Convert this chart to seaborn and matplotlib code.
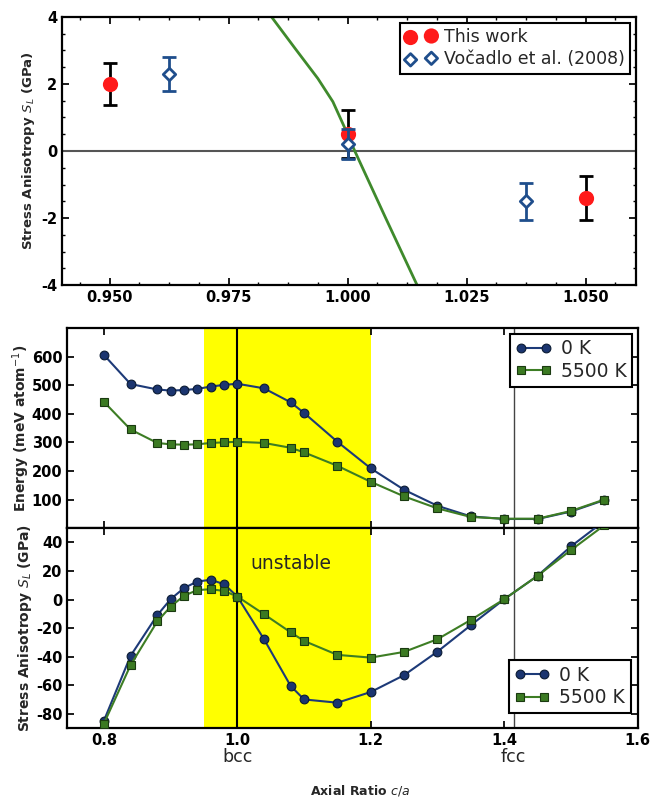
import numpy as np
import pandas as pd
import matplotlib
matplotlib.use("Agg")
import matplotlib.pyplot as plt
import seaborn as sns

# ---------------- data ----------------
# top panel
this_x = [0.950, 1.000, 1.050]
this_y = [2.0, 0.5, -1.4]
this_err = [0.62, 0.72, 0.65]
voc_x = [0.9625, 1.000, 1.0375]
voc_y = [2.3, 0.2, -1.5]
voc_err = [0.5, 0.45, 0.55]
fit_x = [0.984, 0.989, 0.99375, 0.9969, 0.9993, 1.0015, 1.008, 1.0146]
fit_y = [4.0, 3.05, 2.16, 1.47, 0.72, 0.0, -2.0, -4.0]

# lower panels
ca = [0.80, 0.84, 0.88, 0.90, 0.92, 0.94, 0.96, 0.98, 1.00, 1.04, 1.08, 1.10,
      1.15, 1.20, 1.25, 1.30, 1.35, 1.40, 1.45, 1.50, 1.55]
energy_0K = [606, 504, 485, 481, 483, 487, 495, 501, 505, 489, 440, 403,
             302, 209, 134, 78, 41, 32, 32, 58, 98]
energy_5500K = [442, 345, 298, 293, 292, 293, 298, 300, 302, 298, 281, 265,
                218, 162, 111, 69, 39, 33, 33, 60, 100]
stress_0K = [-85, -39.5, -11, 0.2, 8, 12.6, 13.8, 10.8, 2.1, -27.8, -60.6, -70,
             -72.3, -64.8, -53, -36.5, -18, 0.2, 16.6, 37.2, 55]
stress_5500K = [-87, -46, -15.4, -5, 2.6, 6.6, 7.2, 6, 2.1, -10.3, -23, -29,
                -38.8, -40.7, -36.7, -27.8, -14.3, 0.2, 16.6, 34.6, 52]

xticks_low = [0.8, 1.0, 1.2, 1.4, 1.6]
ytick_energy = [100, 200, 300, 400, 500, 600]
ytick_stress = [-80, -60, -40, -20, 0, 20, 40]

# ---------------- style ----------------
sns.set_theme(style="ticks")
plt.rcParams['font.family'] = ['DejaVu Sans']
plt.rcParams.update({
    'xtick.direction': 'in', 'ytick.direction': 'in',
    'xtick.top': True, 'ytick.right': True,
    'xtick.major.size': 5, 'ytick.major.size': 5,
    'xtick.minor.size': 2.5, 'ytick.minor.size': 2.5,
    'axes.linewidth': 1.6, 'axes.edgecolor': 'black',
    'xtick.color': 'black', 'ytick.color': 'black',
    'xtick.labelsize': 10.5, 'ytick.labelsize': 10.5,
    'legend.fancybox': False, 'legend.edgecolor': 'black',
    'legend.framealpha': 1.0,
})

BLUE = '#1d3a78'
BLUE_M = '#1b3570'
GREEN = '#3d7d24'
GREEN_M = '#3b7a22'
RED = '#ff1a1a'
VOC = '#1f4e8c'

fig = plt.figure(figsize=(6.52, 7.99), dpi=100)
ax1 = fig.add_axes([0.095, 0.643, 0.880, 0.336])
ax2 = fig.add_axes([0.103, 0.339, 0.875, 0.2505])
ax3 = fig.add_axes([0.103, 0.0889, 0.875, 0.2501], sharex=ax2)

def bold_ticks(ax):
    for lab in ax.get_xticklabels() + ax.get_yticklabels():
        lab.set_fontweight('bold')

# ---------------- top panel ----------------
ax1.axhline(0, color='#555555', lw=1.5, zorder=1)
sns.lineplot(x=fit_x, y=fit_y, ax=ax1, color='#3f8a2c', lw=2, sort=False, zorder=2)
ax1.errorbar(this_x, this_y, yerr=this_err, fmt='none', ecolor='black',
             elinewidth=2, capsize=5, capthick=2, zorder=3)
sns.scatterplot(x=this_x, y=this_y, ax=ax1, color=RED, s=120, edgecolor=RED,
                linewidth=0, marker='o', label='This work', zorder=4)
ax1.errorbar(voc_x, voc_y, yerr=voc_err, fmt='none', ecolor=VOC,
             elinewidth=2, capsize=5, capthick=2, zorder=5)
sns.scatterplot(x=voc_x, y=voc_y, ax=ax1, color='white', s=40, edgecolor=VOC,
                linewidth=2, marker='D', label='Vočadlo et al. (2008)', zorder=6)
ax1.set_xlim(0.94, 1.0605)
ax1.set_ylim(-4, 4)
ax1.set_xticks([0.950, 0.975, 1.000, 1.025, 1.050])
ax1.set_xticklabels(['0.950', '0.975', '1.000', '1.025', '1.050'])
ax1.set_yticks([-4, -2, 0, 2, 4])
ax1.set_yticklabels(['-4', '-2', '0', '2', '4'])
ax1.xaxis.set_minor_locator(matplotlib.ticker.MultipleLocator(0.00625))
ax1.yaxis.set_minor_locator(matplotlib.ticker.MultipleLocator(0.5))
ax1.tick_params(which='both', top=True, right=True, direction='in')
ax1.set_ylabel('Stress Anisotropy $S_L$ (GPa)', fontsize=9.5, fontweight='bold', labelpad=3)
ax1.set_xlabel('')
leg1 = ax1.legend(loc='upper right', scatterpoints=2, fontsize=12.5,
                  borderpad=0.3, handletextpad=0.4, labelspacing=0.25,
                  handlelength=1.8, borderaxespad=0.35)
leg1.get_frame().set_linewidth(1.5)
bold_ticks(ax1)

# ---------------- middle panel ----------------
for ax in (ax2, ax3):
    ax.axvspan(0.95, 1.2, color='#ffff00', lw=0, zorder=0)
    ax.axvline(1.0, color='black', lw=1.5, zorder=1)
    ax.axvline(np.sqrt(2), color='#444444', lw=1.0, zorder=1)

line_kw0 = dict(color=BLUE, lw=1.5, marker='o', markersize=6.3,
                markerfacecolor=BLUE_M, markeredgecolor='#0a1a33',
                markeredgewidth=0.8, label='0 K', zorder=3)
line_kw1 = dict(color=GREEN, lw=1.5, marker='s', markersize=6.3,
                markerfacecolor=GREEN_M, markeredgecolor='#1a3a10',
                markeredgewidth=0.8, label='5500 K', zorder=3)

sns.lineplot(x=ca, y=energy_0K, ax=ax2, **line_kw0)
sns.lineplot(x=ca, y=energy_5500K, ax=ax2, **line_kw1)
ax2.set_ylim(0, 700)
ax2.set_yticks(ytick_energy)
ax2.set_ylabel('Energy (meV atom$^{-1}$)', fontsize=10, fontweight='bold', labelpad=0)
ax2.tick_params(labelbottom=False, top=True, right=True, direction='in')
leg2 = ax2.legend(loc='upper right', numpoints=2, fontsize=13.5,
                  borderpad=0.3, handletextpad=0.5, labelspacing=0.2,
                  handlelength=1.9, borderaxespad=0.3)
leg2.get_frame().set_linewidth(1.5)
bold_ticks(ax2)

# ---------------- bottom panel ----------------
sns.lineplot(x=ca, y=stress_0K, ax=ax3, **line_kw0)
sns.lineplot(x=ca, y=stress_5500K, ax=ax3, **line_kw1)
ax3.set_xlim(0.745, 1.6)
ax3.set_ylim(-90, 50)
ax3.set_xticks(xticks_low)
ax3.set_xticklabels(['0.8', '1.0', '1.2', '1.4', '1.6'])
ax3.set_yticks(ytick_stress)
ax3.set_yticklabels(['-80', '-60', '-40', '-20', '0', '20', '40'])
ax3.tick_params(top=True, right=True, direction='in')
ax3.set_ylabel('Stress Anisotropy $S_L$ (GPa)', fontsize=10, fontweight='bold', labelpad=1)
ax3.set_xlabel('')
ax3.text(1.081, 25, 'unstable', fontsize=13.5, ha='center', va='center', zorder=4)
tr = ax3.get_xaxis_transform()
ax3.text(1.0, -0.145, 'bcc', transform=tr, ha='center', va='center', fontsize=12.5)
ax3.text(np.sqrt(2), -0.145, 'fcc', transform=tr, ha='center', va='center', fontsize=12.5)
leg3 = ax3.legend(loc='lower right', numpoints=2, fontsize=13.5,
                  borderpad=0.3, handletextpad=0.5, labelspacing=0.2,
                  handlelength=1.9, bbox_to_anchor=(0.988, 0.075), borderaxespad=0)
leg3.get_frame().set_linewidth(1.5)
bold_ticks(ax3)

fig.text(0.553, 1 - 791 / 799, 'Axial Ratio $c/a$', fontsize=9, fontweight='bold',
         ha='center', va='center')

fig.savefig('out.png', dpi=100)
